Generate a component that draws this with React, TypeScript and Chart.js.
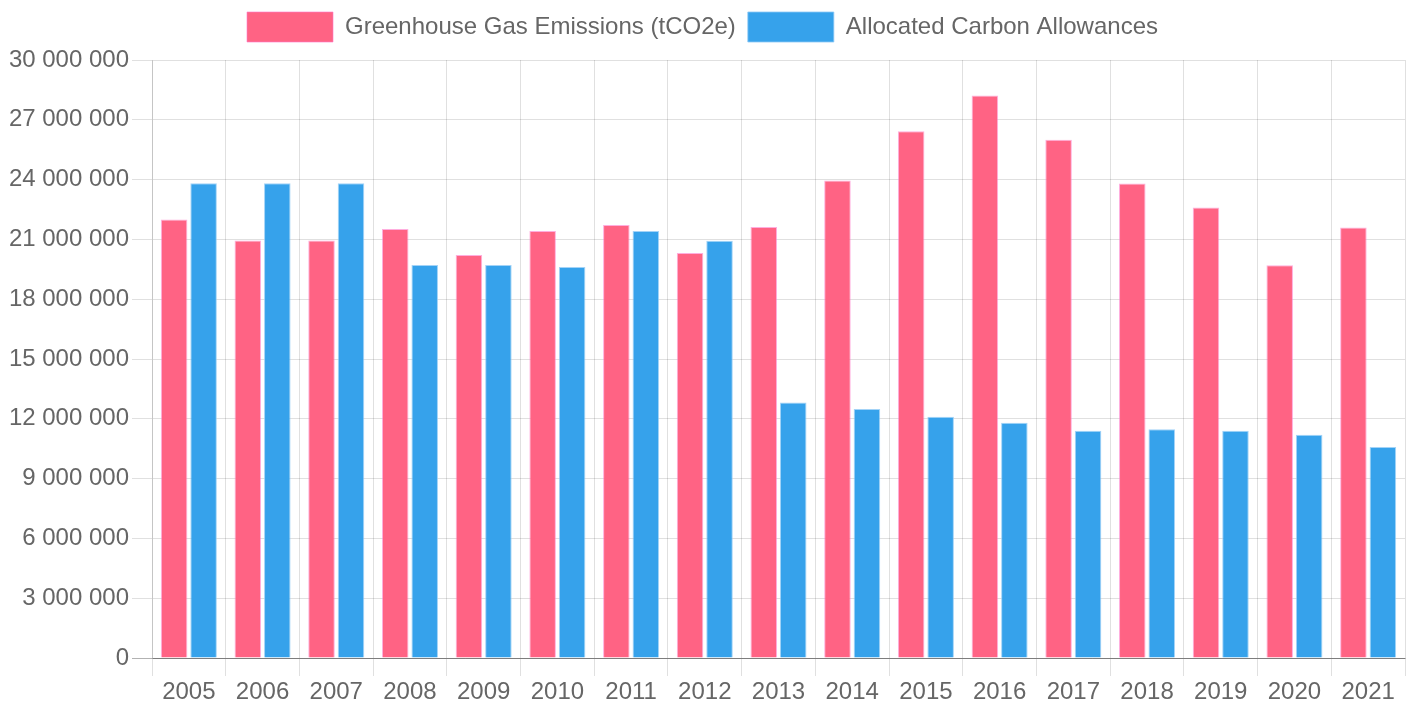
import React, { useEffect, useRef } from "react";
import { Chart, registerables } from "chart.js";

Chart.register(...registerables);

const years = ["2005", "2006", "2007", "2008", "2009", "2010", "2011", "2012", "2013", "2014", "2015", "2016", "2017", "2018", "2019", "2020", "2021"];
const emissions = [22000000, 20950000, 20950000, 21520000, 20220000, 21420000, 21720000, 20320000, 21620000, 23950000, 26430000, 28220000, 26000000, 23800000, 22600000, 19700000, 21600000];
const allowances = [23820000, 23820000, 23820000, 19720000, 19720000, 19620000, 21420000, 20930000, 12820000, 12490000, 12100000, 11800000, 11400000, 11480000, 11400000, 11200000, 10580000];
const seriesLabels = ["Greenhouse Gas Emissions (tCO2e)", "Allocated Carbon Allowances"];

const fmt = (v: number) => String(Math.round(v)).replace(/\B(?=(\d{3})+(?!\d))/g, " ");

const legendSpace = {
  id: "legendSpace",
  beforeInit(chart: any) {
    const lg = chart.legend;
    if (lg && !lg.__patched) {
      const orig = lg.fit;
      lg.fit = function () {
        orig.call(this);
        this.height += 8;
      };
      lg.__patched = true;
    }
  },
};

export default function App() {
  const ref = useRef<HTMLCanvasElement | null>(null);
  useEffect(() => {
    document.body.style.margin = "0";
    const FONT = "'Liberation Sans', Arial, Helvetica, sans-serif";
    const chart = new Chart(ref.current!, {
      type: "bar",
      data: {
        labels: years,
        datasets: [
          { label: seriesLabels[0], data: emissions, backgroundColor: "#FF6384", borderColor: "rgba(255,120,200,0.6)", borderWidth: 1 },
          { label: seriesLabels[1], data: allowances, backgroundColor: "#36A2EB", borderColor: "rgba(140,200,245,0.8)", borderWidth: 1 },
        ],
      },
      plugins: [legendSpace],
      options: {
        animation: false,
        responsive: false,
        devicePixelRatio: 1,
        layout: { padding: { left: 0, right: 9, top: 0, bottom: 0 } },
        plugins: {
          legend: {
            position: "top",
            labels: {
              boxWidth: 86,
              boxHeight: 30,
              padding: 12,
              color: "#666",
              font: { family: FONT, size: 24 },
            },
          },
          tooltip: { enabled: false },
        },
        scales: {
          x: {
            grid: { color: "rgba(0,0,0,0.12)", tickLength: 18, offset: true },
            border: { color: "rgba(0,0,0,0.3)" },
            ticks: { color: "#666", font: { family: FONT, size: 24 }, padding: 2, maxRotation: 0 },
            afterFit: (s: any) => { s.height = 50; },
          },
          y: {
            min: 0,
            max: 30000000,
            grid: { color: (c: any) => (c.tick && c.tick.value === 0 ? "rgba(0,0,0,0.3)" : "rgba(0,0,0,0.12)"), tickLength: 20 },
            border: { color: "rgba(0,0,0,0.12)" },
            ticks: { stepSize: 3000000, color: "#666", font: { family: FONT, size: 24 }, padding: 3, callback: (v: any) => fmt(Number(v)) },
            afterFit: (s: any) => { s.width = 152; },
          },
        },
      },
    });
    return () => chart.destroy();
  }, []);
  return (
    <div style={{ width: 1414, height: 708 }}>
      <canvas ref={ref} width={1414} height={708} style={{ display: "block" }} />
    </div>
  );
}
